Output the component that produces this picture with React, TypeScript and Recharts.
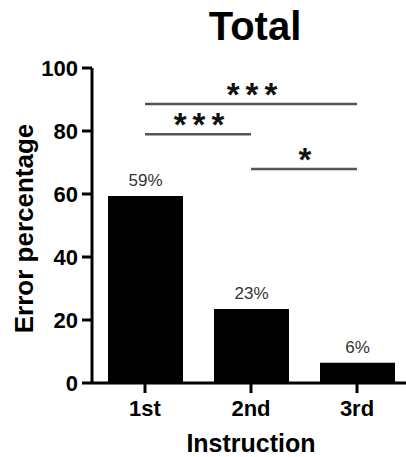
import { Bar, BarChart, LabelList, ReferenceLine, XAxis, YAxis } from "recharts";

const instructions = ["1st", "2nd", "3rd"];
const errorPct = [59.4, 23.5, 6.4];
const pctLabels = ["59%", "23%", "6%"];
const yTicks = [0, 20, 40, 60, 80, 100];

// significance brackets: from / to category, height on the y scale, stars
const compFrom = ["1st", "1st", "2nd"];
const compTo = ["3rd", "2nd", "3rd"];
const compY = [88.6, 79, 67.9];
const compMark = ["***", "***", "*"];

const FONT = "'Liberation Sans', Arial, Helvetica, sans-serif";

const data = instructions.map((name, i) => ({
  name,
  value: errorPct[i],
  label: pctLabels[i],
}));

function StarLabel({ viewBox, mark }: any) {
  if (!viewBox) return null;
  const cx = viewBox.x + viewBox.width / 2;
  return (
    <text
      x={cx + 4}
      y={viewBox.y + 2}
      textAnchor="middle"
      fontFamily={FONT}
      fontWeight="bold"
      fontSize={33}
      letterSpacing={6}
      fill="#111"
    >
      {mark}
    </text>
  );
}

function YTitle({ viewBox }: any) {
  const x = 33;
  const y = viewBox ? viewBox.y + viewBox.height / 2 + 3 : 228;
  return (
    <text
      x={x}
      y={y}
      transform={`rotate(-90, ${x}, ${y})`}
      textAnchor="middle"
      fontFamily={FONT}
      fontWeight="bold"
      fontSize={26}
      fill="#000"
    >
      Error percentage
    </text>
  );
}

function XTitle({ viewBox }: any) {
  const x = viewBox ? viewBox.x + viewBox.width / 2 : 253;
  return (
    <text x={x} y={452} textAnchor="middle" fontFamily={FONT} fontWeight="bold" fontSize={25} fill="#000">
      Instruction
    </text>
  );
}

export default function App() {
  return (
    <div style={{ position: "absolute", left: 0, top: 0, width: 406, height: 457, overflow: "hidden", background: "#fff" }}>
      <div
        style={{
          position: "absolute",
          left: 155,
          width: 200,
          top: 6,
          textAlign: "center",
          fontFamily: FONT,
          fontWeight: "bold",
          fontSize: 40,
          lineHeight: "40px",
          color: "#000",
        }}
      >
        Total
      </div>
      <BarChart width={410} height={457} data={data} margin={{ top: 68, right: 0, bottom: 0, left: 0 }}>
        <XAxis
          dataKey="name"
          height={74}
          stroke="#000"
          strokeWidth={3}
          tickSize={10}
          tickMargin={7}
          tick={{ fill: "#000", fontSize: 22, fontWeight: "bold", fontFamily: FONT }}
          label={{ content: <XTitle /> }}
        />
        <YAxis
          width={92}
          domain={[0, 100]}
          ticks={yTicks}
          stroke="#000"
          strokeWidth={3}
          tickSize={10}
          tickMargin={4}
          tick={{ fill: "#000", fontSize: 22, fontWeight: "bold", fontFamily: FONT }}
          label={{ content: <YTitle /> }}
        />
        <Bar dataKey="value" fill="#000" barSize={75} isAnimationActive={false}>
          <LabelList
            dataKey="label"
            position="top"
            offset={10}
            fill="#333"
            fontSize={17}
            fontFamily={FONT}
          />
        </Bar>
        {compY.map((y, i) => (
          <ReferenceLine
            key={i}
            segment={[
              { x: compFrom[i], y },
              { x: compTo[i], y },
            ]}
            stroke="#555"
            strokeWidth={2.5}
            ifOverflow="visible"
            label={{ content: <StarLabel mark={compMark[i]} /> }}
          />
        ))}
      </BarChart>
    </div>
  );
}
